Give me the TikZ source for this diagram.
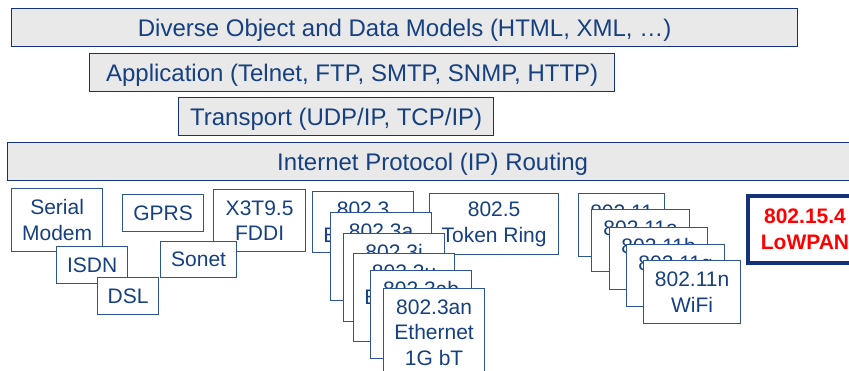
\documentclass[tikz,border=0pt]{standalone}
\usepackage{fontspec}
\setmainfont{Liberation Sans}
\definecolor{txtblue}{RGB}{22,64,128}
\definecolor{edgeblue}{RGB}{45,85,150}
\definecolor{navy}{RGB}{20,50,120}
\definecolor{barfill}{RGB}{233,233,233}
\definecolor{lowred}{RGB}{255,0,0}
\tikzset{
  bar/.style={draw=navy, line width=1.3pt, fill=barfill, text=txtblue, inner sep=0pt,
    anchor=north west, text height=19pt, text depth=1pt, font=\fontsize{24}{28}\selectfont},
  lbox/.style={draw=edgeblue, line width=1.2pt, fill=white, text=txtblue, inner sep=0pt,
    anchor=north west, align=center, font=\fontsize{21}{25.5}\selectfont},
  lowbox/.style={draw=navy, line width=4pt, fill=white, text=lowred, inner sep=0pt,
    anchor=north west, align=center, font=\fontsize{21}{26.5}\selectfont\bfseries}
}
\begin{document}
\begin{tikzpicture}[x=1pt,y=-1pt]
\useasboundingbox (0,0) rectangle (849,370);
% stacked protocol bars
\node[bar, minimum width=786pt, minimum height=38pt] (models) at (11,8) {Diverse Object and Data Models (HTML, XML, \dots)};
\node[bar, minimum width=525pt, minimum height=38pt] (app) at (89,53) {Application (Telnet, FTP, SMTP, SNMP, HTTP)};
\node[bar, minimum width=315pt, minimum height=38pt] (transport) at (178,97) {Transport (UDP/IP, TCP/IP)};
\node[bar, minimum width=850pt, minimum height=38pt] (ip) at (7,142) {Internet Protocol (IP) Routing};
% link layers, left group
\node[lbox, minimum width=91pt, minimum height=63pt] (serial) at (11,188) {Serial\\Modem};
\node[lbox, minimum width=81pt, minimum height=37pt] (gprs) at (122,194) {GPRS};
\node[lbox, minimum width=92pt, minimum height=62pt] (fddi) at (213,189) {X3T9.5\\FDDI};
\node[lbox, minimum width=71pt, minimum height=37pt] (isdn) at (56,246) {ISDN};
\node[lbox, minimum width=76pt, minimum height=36pt] (sonet) at (160,241) {Sonet};
\node[lbox, minimum width=61pt, minimum height=37pt] (dsl) at (97,277) {DSL};
% ethernet stack
\node[lbox, minimum width=101pt, minimum height=61pt] (e1) at (312,191) {802.3\\Ethernet};
\node[lbox, minimum width=129pt, minimum height=61pt] (tr) at (429,193) {802.5\\Token Ring};
\node[lbox, minimum width=101pt, minimum height=88pt] (e2) at (330,212) {802.3a\\Ethernet\\\phantom{1G bT}};
\node[lbox, minimum width=101pt, minimum height=88pt] (e3) at (343,233) {802.3i\\Ethernet\\\phantom{1G bT}};
\node[lbox, minimum width=101pt, minimum height=88pt] (e4) at (353,253) {802.3u\\Ethernet\\\phantom{1G bT}};
\node[lbox, minimum width=101pt, minimum height=88pt] (e5) at (370,270) {802.3ab\\Ethernet\\\phantom{1G bT}};
\node[lbox, minimum width=101pt, minimum height=88pt] (e6) at (383,288) {802.3an\\Ethernet\\1G bT};
% wifi stack
\node[lbox, minimum width=86pt, minimum height=63pt] (w1) at (578,193) {802.11\\WiFi};
\node[lbox, minimum width=98pt, minimum height=62pt] (w2) at (591,209) {802.11a\\WiFi};
\node[lbox, minimum width=98pt, minimum height=62pt] (w3) at (609,227) {802.11b\\WiFi};
\node[lbox, minimum width=98pt, minimum height=62pt] (w4) at (626,244) {802.11g\\WiFi};
\node[lbox, minimum width=97pt, minimum height=63pt] (w5) at (643,260) {802.11n\\WiFi};
% lowpan
\node[lowbox, minimum width=114pt, minimum height=67pt] (lowpan) at (746,194) {802.15.4\\LoWPAN};
\end{tikzpicture}
\end{document}
